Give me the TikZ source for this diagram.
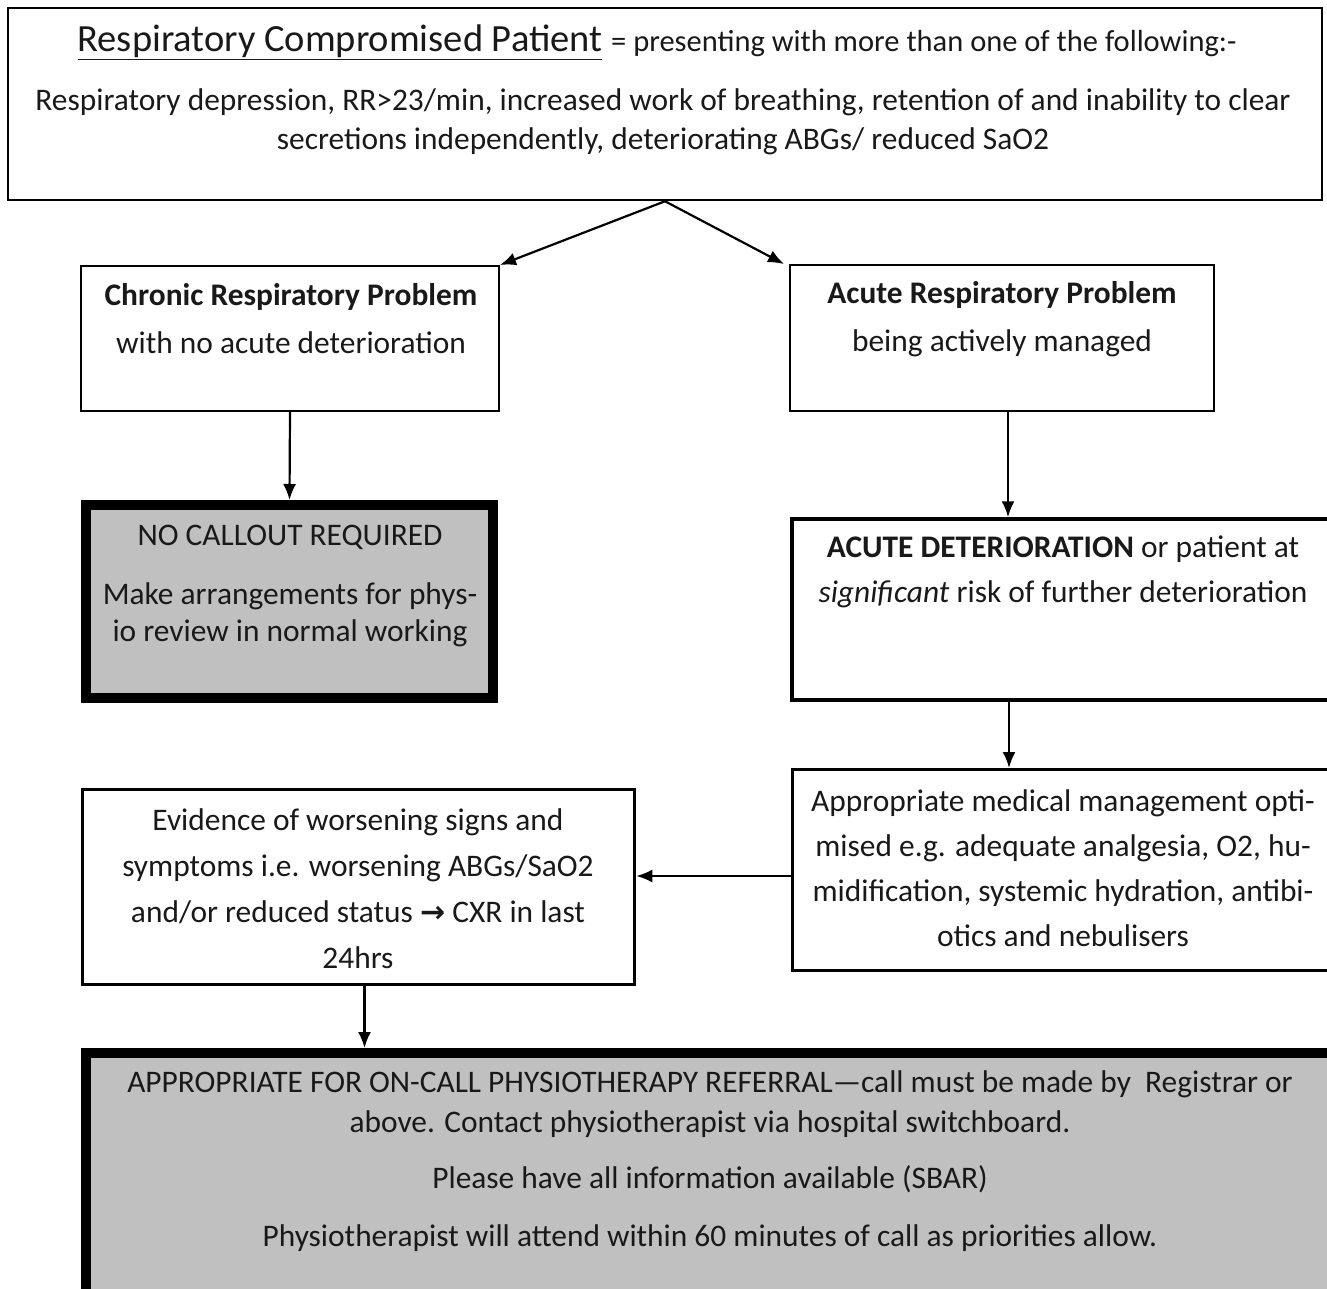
\documentclass[tikz,border=0pt]{standalone}
\usepackage{fontspec}
\setmainfont{Carlito}
\newfontfamily\symfont{DejaVu Sans}
\usetikzlibrary{arrows.meta}

\definecolor{callgrey}{HTML}{C0C0C0}
\newcommand\fsz[2]{\fontsize{#1}{#2}\selectfont}

\tikzset{
  box/.style={draw, line width=2.5bp, fill=white, inner sep=0pt},
  greybox/.style={box, line width=10bp, fill=callgrey},
  txt/.style={align=center, inner sep=0pt, text=black!90},
  arr/.style={-{Latex[length=16bp,width=13bp]}, line width=2.2bp},
}

\begin{document}
\begin{tikzpicture}[x=1bp, y=-1bp]
\useasboundingbox (0,0) rectangle (1327,1288);

% boxes
\node[box, minimum width=1314bp, minimum height=192bp] (top) at (665,104) {};
\node[box, line width=2bp, minimum width=418bp, minimum height=145bp] (chronic) at (290,338.5) {};
\node[box, line width=2bp, minimum width=424bp, minimum height=146bp] (acute) at (1002,338) {};
\node[greybox, minimum width=407bp, minimum height=193bp] (nocall) at (289.5,601.5) {};
\node[box, line width=3.5bp, minimum width=548bp, minimum height=181bp] (acutedet) at (1066,609.5) {};
\node[box, line width=3bp, minimum width=548bp, minimum height=201bp] (medical) at (1066,870) {};
\node[box, line width=3.5bp, minimum width=552bp, minimum height=195bp] (evidence) at (358.5,887) {};
\node[greybox, minimum width=1254bp, minimum height=247bp] (refer) at (713,1176.5) {};

% texts
\node[txt, font=\fsz{38.5bp}{44bp}] (top-head) at (657,42)
  {\underline{Respiratory Compromised Patient} {\fsz{30.5bp}{36bp}= presenting with more than one of the following:-}};
\node[txt, font=\fsz{31.4bp}{39bp}] (top-body) at (663,122)
  {Respiratory depression, RR>23/min, increased work of breathing, retention of and inability to clear\\
   secretions independently, deteriorating ABGs/ reduced SaO2};
\node[txt, font=\fsz{31.4bp}{48bp}] (chronic-txt) at (291,319)
  {\textbf{Chronic Respiratory Problem}\\ with no acute deterioration};
\node[txt, font=\fsz{31.4bp}{48bp}] (acute-txt) at (1002,319)
  {\textbf{Acute Respiratory Problem}\\ being actively managed};
\node[txt, font=\fsz{31.4bp}{37bp}] (nocall-txt) at (290,586)
  {NO CALLOUT REQUIRED\\[22bp] Make arrangements for phys-\\ io review in normal working};
\node[txt, font=\fsz{31.4bp}{45bp}] (acutedet-txt) at (1063,571.5)
  {\textbf{ACUTE DETERIORATION} or patient at\\ \textit{significant} risk of further deterioration};
\node[txt, font=\fsz{31.4bp}{45bp}] (medical-txt) at (1063,868.5)
  {Appropriate medical management opti-\\ mised e.g. adequate analgesia, O2, hu-\\
   midification, systemic hydration, antibi-\\ otics and nebulisers};
\node[txt, font=\fsz{31.4bp}{46bp}] (evidence-txt) at (358,888.5)
  {Evidence of worsening signs and\\ symptoms i.e. worsening ABGs/SaO2\\
   and/or reduced status {\symfont\bfseries\fsz{30bp}{30bp}→} CXR in last\\ 24hrs};
\node[txt, font=\fsz{31.4bp}{40bp}] (refer-txt) at (710,1161)
  {APPROPRIATE FOR ON-CALL PHYSIOTHERAPY REFERRAL—call must be made by\ \ Registrar or\\
   above. Contact physiotherapist via hospital switchboard.\\[16bp]
   Please have all information available (SBAR)\\[18bp]
   Physiotherapist will attend within 60 minutes of call as priorities allow.};

% arrows
\draw[arr] (top.south) -- (chronic.north east);
\draw[arr] (top.south) -- ([xshift=-5bp]acute.north west);
\draw[arr] (chronic.south) -- (nocall.north);
\draw[arr] ([xshift=6bp]acute.south) -- ([xshift=6bp]acute.south |- acutedet.north);
\draw[arr] ([xshift=-57bp]acutedet.south) -- ([xshift=-57bp]acutedet.south |- medical.north);
\draw[arr] ([yshift=-6bp]medical.west) -- ([yshift=-6bp]medical.west -| evidence.east);
\draw[arr] ([xshift=6bp]evidence.south) -- ([xshift=6bp]evidence.south |- refer.north);
\end{tikzpicture}
\end{document}
